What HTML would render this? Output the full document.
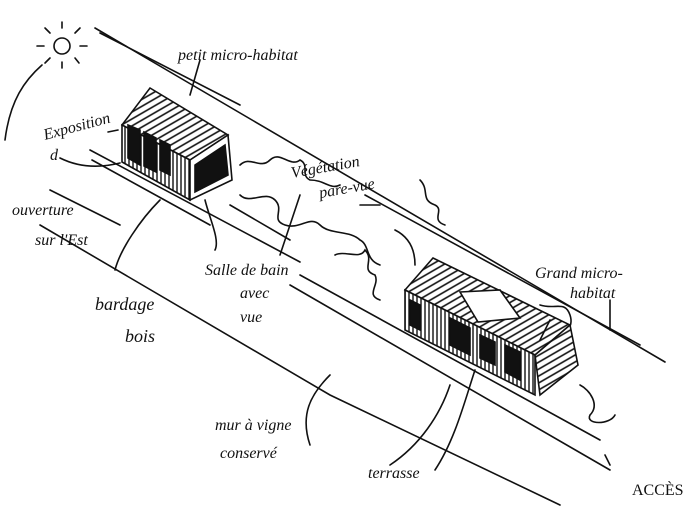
<!DOCTYPE html>
<html><head><meta charset="utf-8"><style>
html,body{margin:0;padding:0;background:#fff;width:689px;height:513px;overflow:hidden}
text{font-family:"Liberation Serif",serif;font-style:italic;fill:#111;font-size:16px}
</style></head><body>
<svg width="689" height="513" viewBox="0 0 689 513" xmlns="http://www.w3.org/2000/svg">
<defs>
<pattern id="h" width="4" height="10" patternUnits="userSpaceOnUse"><rect width="4" height="10" fill="#fff"/><line x1="1" y1="0" x2="1" y2="10" stroke="#111" stroke-width="1.4"/></pattern>
<pattern id="d" width="6" height="6" patternUnits="userSpaceOnUse" patternTransform="rotate(60)"><rect width="6" height="6" fill="#fff"/><line x1="1" y1="0" x2="1" y2="6" stroke="#111" stroke-width="1.6"/></pattern>
</defs>
<g stroke="#111" fill="none" stroke-width="1.6" stroke-linecap="round">
<path d="M95 28 L665 362"/>
<path d="M100 33 L240 105"/>
<path d="M365 195 L640 345"/>
<path d="M90 150 L300 262"/>
<path d="M92 160 L210 225 M300 275 L600 440"/>
<path d="M50 190 L120 225 M290 285 L610 470"/>
<path d="M40 225 L330 395 L560 505"/>
<path d="M230 205 L290 240"/>
<circle cx="62" cy="46" r="8"/>
<path d="M62 28v-6 M75 33l5-5 M80 46h7 M50 33l-5-5 M44 46h-7 M50 58l-5 5 M75 58l4 5 M62 62v6"/>
<path d="M5 140 C10 100 25 80 42 65"/>
<path d="M240 165 c10-10 20 5 30-5 c10-10 20 8 30 0 c10 5 0 15 10 20 c15 0 20 10 30 5"/>
<path d="M240 195 c10 10 25-5 35 5 c10 10 -5 20 10 25 c15 5 25-10 35 0 c10 10 30 5 40 15 c10 5 5 20 20 25"/>
<path d="M335 255 c10-5 25 5 30-5 c10 10 -5 20 10 25 c5 10 -10 20 5 25"/>
<path d="M420 180 c10 10 0 20 15 25 c10 5 -5 15 10 20"/>
<path d="M540 305 c15 5 25 -5 30 10 c5 15 -10 15 0 30"/>
<path d="M580 385 c10 5 20 20 10 30 c-5 10 20 10 25 0"/>
<path d="M395 230 c10 5 20 15 20 35"/>
<polygon points="122,125 150,88 228,135 190,160" fill="url(#d)"/>
<polygon points="122,125 190,160 190,200 122,162" fill="url(#h)"/>
<polygon points="190,160 228,135 232,180 190,200" fill="#fff"/>
<polygon points="195,165 225,145 228,175 195,192" fill="#111"/>
<polygon points="128,125 140,130 140,165 128,158" fill="#111"/>
<polygon points="144,132 156,138 156,172 144,166" fill="#111"/>
<polygon points="160,140 170,145 170,175 160,170" fill="#111"/>
<polygon points="405,290 433,258 570,325 535,355" fill="url(#d)"/>
<polygon points="460,292 500,290 520,318 478,322" fill="#fff"/>
<polygon points="405,290 535,355 535,395 405,330" fill="url(#h)"/>
<polygon points="535,355 570,325 578,365 540,395" fill="url(#d)"/>
<polygon points="410,300 420,305 420,330 410,325" fill="#111"/>
<polygon points="450,318 470,328 470,355 450,345" fill="#111"/>
<polygon points="480,335 495,342 495,365 480,358" fill="#111"/>
<polygon points="505,345 520,352 520,380 505,372" fill="#111"/>
<path d="M200 60 L190 95 M108 132 L118 130 M60 158 c20 10 40 10 60 5 M160 200 c-20 20 -40 50 -45 70 M205 200 c5 20 15 40 10 50 M300 195 l-20 60 M330 375 c-20 20 -30 40 -20 70 M390 465 c30-20 50-50 60-80 M540 340 l10-20 M610 300 l0 30 M605 455 l5 10 M360 205 l20 0"/>
<path d="M435 470 c20-30 30-70 40-100"/>
</g>
<text x="178" y="60">petit micro-habitat</text>
<text x="45" y="140" transform="rotate(-15 45 140)">Exposition</text>
<text x="50" y="160">d</text>
<text x="12" y="215">ouverture</text>
<text x="35" y="245">sur l'Est</text>
<text x="292" y="178" transform="rotate(-10 292 178)">Végétation</text>
<text x="320" y="198" transform="rotate(-10 320 198)">pare-vue</text>
<text x="205" y="275">Salle de bain</text>
<text x="240" y="298">avec</text>
<text x="240" y="322">vue</text>
<text x="95" y="310" style="font-size:18px">bardage</text>
<text x="125" y="342" style="font-size:18px">bois</text>
<text x="535" y="278">Grand micro-</text>
<text x="570" y="298">habitat</text>
<text x="215" y="430">mur à vigne</text>
<text x="220" y="458">conservé</text>
<text x="368" y="478">terrasse</text>
<text x="632" y="495" style="font-style:normal">ACCÈS</text>
</svg>
</body></html>
